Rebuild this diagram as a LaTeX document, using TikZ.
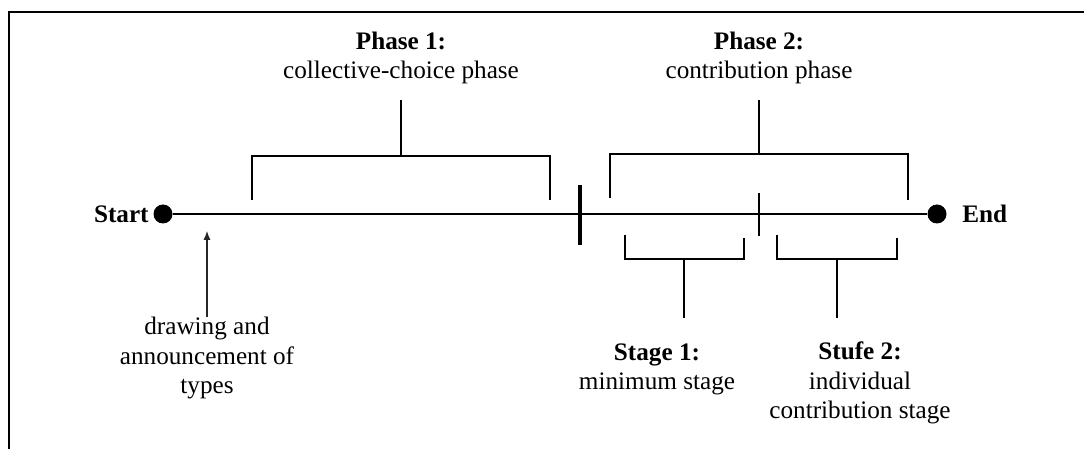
\documentclass[tikz,border=0pt]{standalone}
\usepackage{fontspec}
\setmainfont{Liberation Serif}
\usetikzlibrary{arrows.meta}

\begin{document}
\begin{tikzpicture}[x=0.5pt,y=-0.5pt]
\tikzset{dot/.style = {shape=circle,fill,inner sep=0pt,minimum size=9.5pt}}
\tikzset{txt/.style = {align=center,inner sep=0pt,font=\fontsize{12.6}{14.6}\selectfont}}
\tikzset{brace/.style = {line width=0.8pt}}
\tikzset{edge/.style = {->,> = {Latex[length=4.5pt,width=3.6pt]},line width=0.6pt,draw=black!85}}
\useasboundingbox (0,0) rectangle (1084,449);
\draw[line width=1.4pt] (9,449) -- (9,12) -- (1084,12);

\node[dot] (start) at (163,214) {};
\node[dot] (end) at (937,214) {};
\node[txt,anchor=east] (startlbl) at (149,214) {\textbf{Start}};
\node[txt,anchor=west] (endlbl) at (962,214) {\textbf{End}};
\draw[line width=1.1pt] (start) -- (end);

% phase 1
\node[txt] (ph1) at (401,58) {\textbf{Phase 1:}\\collective-choice phase};
\coordinate (ph1top) at (401,100);
\coordinate (ph1mid) at (401,156);
\draw[brace] (252,200) -- (252,156) -- (550,156) -- (550,200);
\draw[brace] (ph1mid) -- (ph1top);

% phase 2
\node[txt] (ph2) at (759,58) {\textbf{Phase 2:}\\contribution phase};
\coordinate (ph2top) at (759,100);
\coordinate (ph2mid) at (759,154);
\draw[brace] (610,198) -- (610,154) -- (908,154) -- (908,200);
\draw[brace] (ph2mid) -- (ph2top);

% dividers
\coordinate (cut1a) at (580,185);
\coordinate (cut1b) at (580,245);
\coordinate (cut2a) at (759,193);
\coordinate (cut2b) at (759,236);
\draw[line width=1.6pt] (cut1a) -- (cut1b);
\draw[brace] (cut2a) -- (cut2b);

% stage 1
\node[txt] (st1) at (657,369) {\textbf{Stage 1:}\\minimum stage};
\coordinate (st1mid) at (684,259);
\coordinate (st1bot) at (684,318);
\draw[brace] (625,235) -- (625,259) -- (744,259) -- (744,238);
\draw[brace] (st1mid) -- (st1bot);

% stage 2
\node[txt] (st2) at (860,383) {\textbf{Stufe 2:}\\individual\\contribution stage};
\coordinate (st2mid) at (837,259);
\coordinate (st2bot) at (837,318);
\draw[brace] (777,235) -- (777,259) -- (897,259) -- (897,238);
\draw[brace] (st2mid) -- (st2bot);

% announcement
\node[txt] (types) at (207,358) {drawing and\\announcement of\\types};
\coordinate (tip) at (207,231);
\draw[edge] (types) -- (tip);
\end{tikzpicture}
\end{document}
